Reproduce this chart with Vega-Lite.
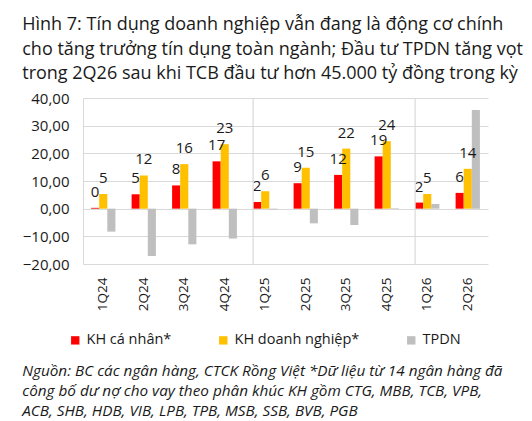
{
  "$schema": "https://vega.github.io/schema/vega-lite/v6.json",
  "padding": {"left": 22, "top": 16, "right": 4, "bottom": 2},
  "title": {
    "text": [
      "Nguồn: BC các ngân hàng, CTCK Rồng Việt *Dữ liệu từ 14 ngân hàng đã",
      "công bố dư nợ cho vay theo phân khúc KH gồm CTG, MBB, TCB, VPB,",
      "ACB, SHB, HDB, VIB, LPB, TPB, MSB, SSB, BVB, PGB"
    ],
    "orient": "bottom",
    "anchor": "start",
    "font": "Open Sans",
    "fontSize": 15.3,
    "fontStyle": "italic",
    "fontWeight": "normal",
    "color": "#1a1a1a",
    "lineHeight": 19.8,
    "offset": 17
  },
  "datasets": {
    "growth": [
      {"quarter": "1Q24", "series": "KH cá nhân*", "value": 0.3},
      {"quarter": "2Q24", "series": "KH cá nhân*", "value": 5.2},
      {"quarter": "3Q24", "series": "KH cá nhân*", "value": 8.4},
      {"quarter": "4Q24", "series": "KH cá nhân*", "value": 17.1},
      {"quarter": "1Q25", "series": "KH cá nhân*", "value": 2.4},
      {"quarter": "2Q25", "series": "KH cá nhân*", "value": 9.2},
      {"quarter": "3Q25", "series": "KH cá nhân*", "value": 12.2},
      {"quarter": "4Q25", "series": "KH cá nhân*", "value": 18.9},
      {"quarter": "1Q26", "series": "KH cá nhân*", "value": 2.2},
      {"quarter": "2Q26", "series": "KH cá nhân*", "value": 5.7},
      {"quarter": "1Q24", "series": "KH doanh nghiệp*", "value": 5.3},
      {"quarter": "2Q24", "series": "KH doanh nghiệp*", "value": 12.0},
      {"quarter": "3Q24", "series": "KH doanh nghiệp*", "value": 16.1},
      {"quarter": "4Q24", "series": "KH doanh nghiệp*", "value": 23.3},
      {"quarter": "1Q25", "series": "KH doanh nghiệp*", "value": 6.3},
      {"quarter": "2Q25", "series": "KH doanh nghiệp*", "value": 14.8},
      {"quarter": "3Q25", "series": "KH doanh nghiệp*", "value": 21.7},
      {"quarter": "4Q25", "series": "KH doanh nghiệp*", "value": 24.4},
      {"quarter": "1Q26", "series": "KH doanh nghiệp*", "value": 5.3},
      {"quarter": "2Q26", "series": "KH doanh nghiệp*", "value": 14.4},
      {"quarter": "1Q24", "series": "TPDN", "value": -8.3},
      {"quarter": "2Q24", "series": "TPDN", "value": -17.1},
      {"quarter": "3Q24", "series": "TPDN", "value": -12.9},
      {"quarter": "4Q24", "series": "TPDN", "value": -10.8},
      {"quarter": "1Q25", "series": "TPDN", "value": -0.3},
      {"quarter": "2Q25", "series": "TPDN", "value": -5.3},
      {"quarter": "3Q25", "series": "TPDN", "value": -5.9},
      {"quarter": "4Q25", "series": "TPDN", "value": 0.2},
      {"quarter": "1Q26", "series": "TPDN", "value": 1.7},
      {"quarter": "2Q26", "series": "TPDN", "value": 35.7}
    ],
    "years": [
      {"quarter": "1Q25"},
      {"quarter": "1Q26"}
    ]
  },
  "vconcat": [
    {
      "width": 405,
      "height": 166,
      "title": {
        "text": [
          "Hình 7: Tín dụng doanh nghiệp vẫn đang là động cơ chính",
          "cho tăng trưởng tín dụng toàn ngành; Đầu tư TPDN tăng vọt",
          "trong 2Q26 sau khi TCB đầu tư hơn 45.000 tỷ đồng trong kỳ"
        ],
        "anchor": "start",
        "font": "Open Sans",
        "fontSize": 18,
        "fontWeight": 500,
        "color": "#1a1a1a",
        "lineHeight": 24.5,
        "offset": 8
      },
      "layer": [
        {
          "data": {"name": "growth"},
          "mark": {"type": "bar"},
          "encoding": {
            "x": {
              "field": "quarter",
              "type": "nominal",
              "scale": {
                "domain": ["1Q24", "2Q24", "3Q24", "4Q24", "1Q25", "2Q25", "3Q25", "4Q25", "1Q26", "2Q26"],
                "paddingInner": 0.4,
                "paddingOuter": 0.2
              },
              "axis": {
                "title": null,
                "labelAngle": -90,
                "labelPadding": 13,
                "labelFontSize": 13.5,
                "labelColor": "#1a1a1a",
                "ticks": false,
                "domain": false,
                "grid": false
              }
            },
            "xOffset": {
              "field": "series",
              "type": "nominal",
              "scale": {"domain": ["KH cá nhân*", "KH doanh nghiệp*", "TPDN"], "paddingInner": 0}
            },
            "y": {
              "field": "value",
              "type": "quantitative",
              "scale": {"domain": [-20, 40], "nice": false},
              "axis": {
                "title": null,
                "values": [-20, -10, 0, 10, 20, 30, 40],
                "labelExpr": "replace(format(datum.value, '.2f'), '.', ',')",
                "labelOverlap": false,
                "labelFontSize": 15,
                "labelColor": "#1a1a1a",
                "labelPadding": 14,
                "ticks": false,
                "domainColor": "#d9d9d9",
                "gridColor": "#d9d9d9",
                "gridWidth": 1.2
              }
            },
            "color": {
              "field": "series",
              "type": "nominal",
              "scale": {
                "domain": ["KH cá nhân*", "KH doanh nghiệp*", "TPDN"],
                "range": ["#ff0000", "#ffc000", "#bfbfbf"]
              },
              "legend": {
                "title": null,
                "orient": "none",
                "direction": "horizontal",
                "legendX": -15,
                "legendY": 235,
                "symbolType": "square",
                "symbolSize": 70,
                "symbolStrokeWidth": 0,
                "labelFontSize": 14.5,
                "labelColor": "#1a1a1a",
                "labelOffset": 4,
                "columnPadding": 44
              }
            }
          }
        },
        {
          "data": {"name": "growth"},
          "transform": [{"filter": "datum.series != 'TPDN'"}],
          "mark": {"type": "text", "baseline": "alphabetic", "dy": -11, "fontSize": 15, "color": "#1a1a1a"},
          "encoding": {
            "x": {"field": "quarter", "type": "nominal"},
            "xOffset": {"field": "series", "type": "nominal"},
            "y": {
              "field": "value",
              "type": "quantitative",
              "axis": {
                "title": null,
                "values": [-20, -10, 0, 10, 20, 30, 40],
                "labelExpr": "replace(format(datum.value, '.2f'), '.', ',')",
                "labelOverlap": false,
                "labelFontSize": 15,
                "labelColor": "#1a1a1a",
                "labelPadding": 14,
                "ticks": false,
                "domainColor": "#d9d9d9",
                "gridColor": "#d9d9d9",
                "gridWidth": 1.2
              }
            },
            "text": {"field": "value", "type": "quantitative", "format": ".0f"}
          }
        },
        {
          "data": {"name": "years"},
          "mark": {"type": "rule", "color": "#d9d9d9", "strokeWidth": 1.2},
          "encoding": {
            "x": {"field": "quarter", "type": "nominal", "bandPosition": 0}
          }
        }
      ]
    }
  ],
  "config": {
    "font": "Open Sans",
    "view": {"stroke": null},
    "axis": {"labelFont": "Open Sans"},
    "legend": {"labelFont": "Open Sans"}
  }
}
